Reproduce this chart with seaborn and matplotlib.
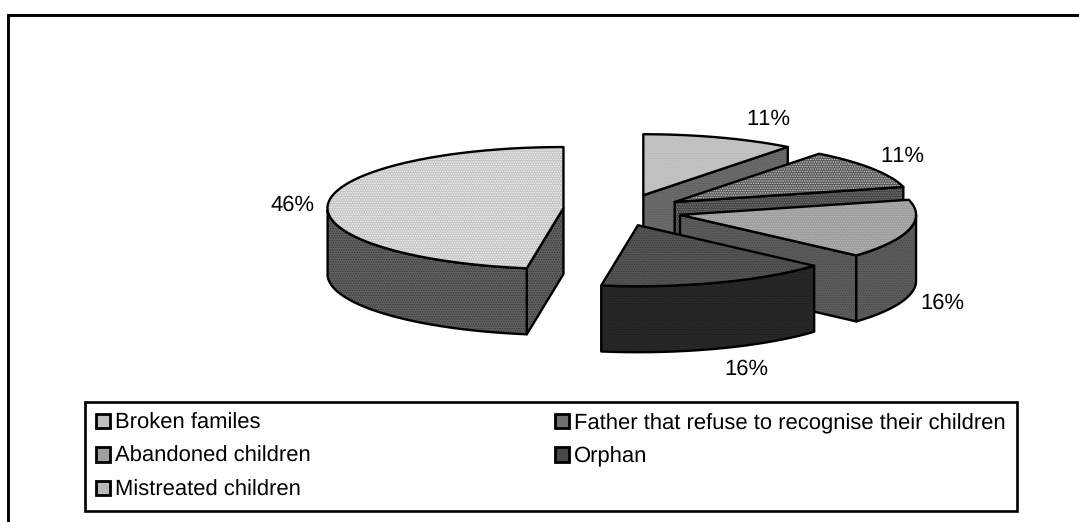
import numpy as np
import matplotlib
matplotlib.use('Agg')
import matplotlib.pyplot as plt
from matplotlib.patches import Patch
import seaborn as sns

# data
causes = ['Broken familes', 'Father that refuse to recognise their children',
          'Abandoned children', 'Orphan', 'Mistreated children']
shares = [11, 11, 16, 16, 46]

# look of each slice
top_colors = ['#bdbdbd', '#585858', '#9c9c9c', '#565656', '#c4c4c4']
top_dots = ['#cccccc', '#c8c8c8', '#b8b8b8', '#3c3c3c', '#f4f4f4']
side_colors = ['#6c6c6c', '#444444', '#5e5e5e', '#222222', '#626262']
side_dots = ['#5c5c5c', '#787878', '#484848', '#303030', '#383838']
handle_colors = ['#c0c0c0', '#707070', '#a0a0a0', '#484848', '#b8b8b8']

# pixel geometry of the fake 3D pie
CENTER_X, CENTER_Y = 623, 210
RX, RY = 236, 61
DEPTH = 66
EXPLODE_X, EXPLODE_Y = 60, 15.7
WARP = 5.5  # degrees, Excel's view squeezes the angles a bit
FONT_SIZE = 15.85


def warp(deg):
    return deg - WARP * np.sin(np.radians(deg) / 2)


def rim(apex, deg):
    r = np.radians(warp(np.asarray(deg, dtype=float)))
    return apex[0] + RX * np.sin(r), apex[1] - RY * np.cos(r)


def face(ax, xs, ys, color, dots):
    ax.fill(xs, ys, facecolor=color, edgecolor=dots, hatch='.......', lw=0)
    ax.fill(xs, ys, fill=False, edgecolor='black', lw=1.7, joinstyle='round')


def extrude(ax, xs, ys, color, dots):
    xs, ys = np.asarray(xs), np.asarray(ys)
    face(ax, np.r_[xs, xs[::-1]], np.r_[ys, ys[::-1] + DEPTH], color, dots)


def draw_slice(ax, i, start, end):
    mid = np.radians((start + end) / 2)
    apex = (CENTER_X + EXPLODE_X * np.sin(mid), CENTER_Y - EXPLODE_Y * np.cos(mid))
    sweep = np.linspace(start, end, 80)
    # cut faces that look towards the viewer
    if 0 < end < 180:
        ex, ey = rim(apex, end)
        extrude(ax, [apex[0], ex], [apex[1], ey], side_colors[i], side_dots[i])
    if 180 < start < 360:
        sx, sy = rim(apex, start)
        extrude(ax, [apex[0], sx], [apex[1], sy], side_colors[i], side_dots[i])
    # outer wall, front half only
    front = sweep[(warp(sweep) > 90) & (warp(sweep) < 270)]
    if len(front) > 1:
        fx, fy = rim(apex, front)
        extrude(ax, fx, fy, side_colors[i], side_dots[i])
    tx, ty = rim(apex, sweep)
    face(ax, np.r_[apex[0], tx], np.r_[apex[1], ty], top_colors[i], top_dots[i])


sns.set_theme(style='white')
plt.rcParams['font.family'] = ['Liberation Sans', 'DejaVu Sans']
plt.rcParams['hatch.linewidth'] = 0.7
plt.rcParams['text.hinting'] = 'no_hinting'
plt.rcParams['text.kerning_factor'] = 6

fig = plt.figure(figsize=(10.79, 5.22), dpi=100)
ax = fig.add_axes([0, 0, 1, 1])
ax.set_xlim(0, 1079)
ax.set_ylim(522, 0)
ax.axis('off')

# chart frame: only left and top show, the rest is cropped away
ax.plot([8, 8, 1090], [540, 15, 15], color='black', lw=2.1, solid_joinstyle='miter')

edges = np.r_[0, np.cumsum(shares)] * 3.6
for i in [0, 1, 2, 4, 3]:
    draw_slice(ax, i, edges[i], edges[i + 1])

label_xy = [(768, 119), (902, 156), (942, 303), (746, 369), (293, 205)]
for (x, y), s in zip(label_xy, shares):
    ax.text(x, y, f'{s}%', ha='center', va='center', fontsize=FONT_SIZE, color='black')

# matplotlib fills legend columns first
order = [0, 2, 4, 1, 3]
handles = [Patch(facecolor=handle_colors[i], edgecolor='black', lw=2, label=causes[i]) for i in order]
leg = ax.legend(handles=handles, ncol=2, loc='upper left', bbox_to_anchor=(85, 402),
                bbox_transform=ax.transData, borderaxespad=0, fontsize=FONT_SIZE, frameon=True,
                fancybox=False, framealpha=1, edgecolor='black', handlelength=0.62,
                handleheight=0.62, handletextpad=0.25, labelspacing=0.58, borderpad=0.5,
                columnspacing=11.1, labelcolor='black')
leg.get_frame().set_linewidth(1.9)

fig.savefig('out.png', dpi=100)
